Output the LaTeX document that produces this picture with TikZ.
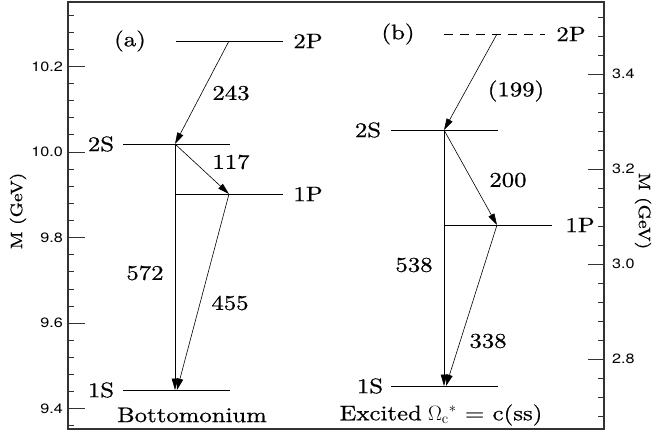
\documentclass[tikz,border=0pt]{standalone}
\usepackage{fontspec}
\newfontfamily\labfont{lmroman10-regular}[Extension=.otf,FakeStretch=1.18,FakeBold=0.7]
\newfontfamily\tickfont{TeX Gyre Heros}[FakeStretch=1.2]
\usetikzlibrary{arrows.meta}
\begin{document}
\begin{tikzpicture}[x=1pt,y=-1pt,
  lvl/.style={line width=0.9pt},
  dlvl/.style={line width=0.9pt,dash pattern=on 9pt off 7pt},
  trans/.style={line width=0.6pt,-{Triangle[length=11.5pt,width=6.5pt]}},
  lab/.style={font=\labfont\fontsize{21}{24}\selectfont, inner sep=0pt},
  axlab/.style={font=\labfont\fontsize{16.5}{19}\selectfont, inner sep=0pt},
  ticklab/.style={font=\tickfont\fontsize{13.5}{15}\selectfont, inner sep=0pt},
  tck/.style={line width=0.9pt, black!80}
]
\useasboundingbox (0,0) rectangle (655,436);
\draw[line width=1.1pt, black!80] (68,2) rectangle (604,429);
% left axis ticks
\foreach \m in {936,940,...,1032}{
  \pgfmathsetmacro\yy{152-(\m-1000)*4.28}
  \pgfmathsetmacro\len{mod(\m,20)==0 ? 17 : 6}
  \draw[tck] (68,\yy) -- ++(\len,0);
}
\foreach \v/\m in {9.4/940,9.6/960,9.8/980,10.0/1000,10.2/1020}{
  \node[ticklab,anchor=east] (tl\m) at (63,{152-(\m-1000)*4.28}) {\v};
}
% right axis ticks
\foreach \m in {268,272,...,352}{
  \pgfmathsetmacro\yy{74-(\m-340)*4.75}
  \pgfmathsetmacro\len{mod(\m,20)==0 ? 16 : 6}
  \draw[tck] (604,\yy) -- ++(-\len,0);
}
\foreach \v/\m in {2.8/280,3.0/300,3.2/320,3.4/340}{
  \node[ticklab,anchor=west] (tr\m) at (612,{74-(\m-340)*4.75}) {\v};
}
\node[axlab,rotate=90] (ylabL) at (18,211) {M (GeV)};
\node[axlab,rotate=-90] (ylabR) at (643,211) {M (GeV)};

% ---------- (a) Bottomonium ----------
\coordinate (a2PL) at (176,41);  \coordinate (a2PR) at (283,41);
\coordinate (a2SL) at (123,144); \coordinate (a2SR) at (230,144);
\coordinate (a1PL) at (176,194); \coordinate (a1PR) at (283,194);
\coordinate (a1SL) at (123,390); \coordinate (a1SR) at (230,390);
\draw[lvl] (a2PL) -- (a2PR);
\draw[lvl] (a2SL) -- (a2SR);
\draw[lvl] (a1PL) -- (a1PR);
\draw[lvl] (a1SL) -- (a1SR);
\node[lab] (ta) at (130,41) {(a)};
\node[lab] (na2P) at (308,41) {2P};
\node[lab] (na2S) at (101,144) {2S};
\node[lab] (na1P) at (308,194) {1P};
\node[lab] (na1S) at (101,390) {1S};
\node[lab] (nbot) at (192,415) {Bottomonium};
\coordinate (a2Pt) at (229,41);
\coordinate (a2St) at (175,144);
\coordinate (a1Pt) at (229,194);
\coordinate (a1St) at (175,390);
\coordinate (a1St2) at (177,390);
\draw[trans] (a2Pt) -- (a2St);
\draw[trans] (a2St) -- (a1Pt);
\draw[trans] (a2St) -- (a1St);
\draw[trans] (a1Pt) -- (a1St2);
\node[lab] (l243) at (231,93) {243};
\node[lab] (l117) at (231,162) {117};
\node[lab] (l572) at (145,273) {572};
\node[lab] (l455) at (230,303) {455};

% ---------- (b) Excited Omega_c ----------
\coordinate (b2PL) at (444,34);  \coordinate (b2PR) at (545,34);
\coordinate (b2SL) at (391,130); \coordinate (b2SR) at (498,130);
\coordinate (b1PL) at (444,225); \coordinate (b1PR) at (552,225);
\coordinate (b1SL) at (391,386); \coordinate (b1SR) at (498,386);
\draw[dlvl] (b2PL) -- (b2PR);
\draw[lvl] (b2SL) -- (b2SR);
\draw[lvl] (b1PL) -- (b1PR);
\draw[lvl] (b1SL) -- (b1SR);
\node[lab] (tb) at (398,34) {(b)};
\node[lab] (nb2P) at (571,34) {2P};
\node[lab] (nb2S) at (368,130) {2S};
\node[lab] (nb1P) at (580,225) {1P};
\node[lab] (nb1S) at (370,386) {1S};
\node[lab] (nexc) at (441,415) {Excited\hspace{0.3em}$\Omega_{\mathrm{c}}{}^{*}$\hspace{0.4em}=\hspace{0.4em}c(ss)};
\coordinate (b2Pt) at (497,34);
\coordinate (b2St) at (444,130);
\coordinate (b1Pt) at (497,225);
\coordinate (b1St) at (444,386);
\coordinate (b1St2) at (446,386);
\draw[trans] (b2Pt) -- (b2St);
\draw[trans] (b2St) -- (b1Pt);
\draw[trans] (b2St) -- (b1St);
\draw[trans] (b1Pt) -- (b1St2);
\node[lab] (l199) at (516,91) {(199)};
\node[lab] (l200) at (508,180) {200};
\node[lab] (l538) at (414,265) {538};
\node[lab] (l338) at (488,341) {338};
\end{tikzpicture}
\end{document}
